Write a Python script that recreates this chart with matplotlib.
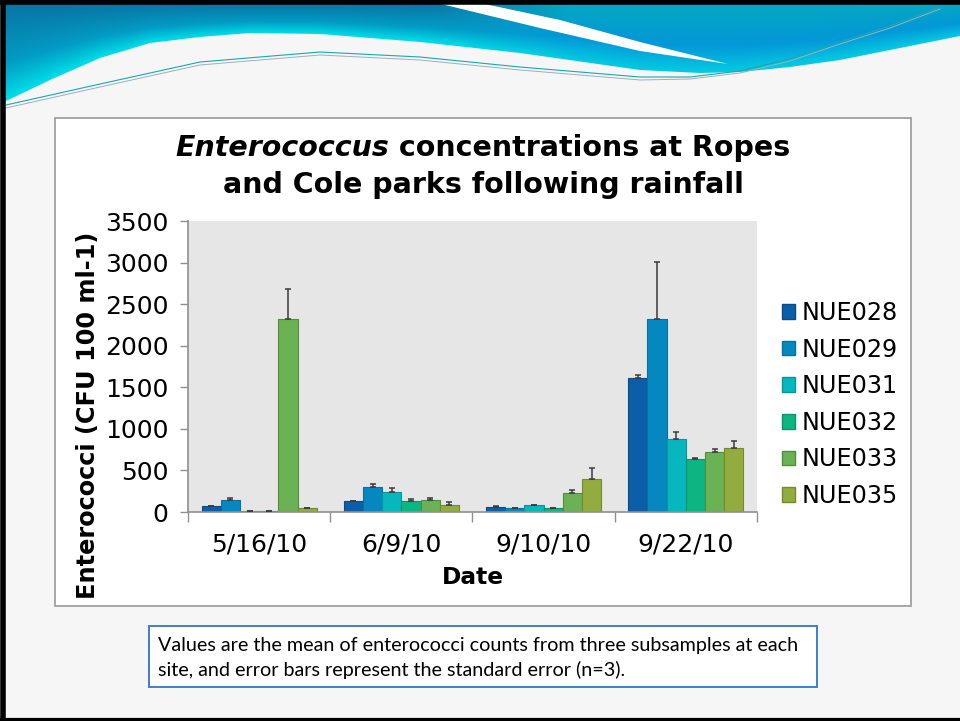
#!/usr/bin/env python3
"""Enterococcus counts at Ropes and Cole parks after rainfall, drawn as a slide."""

import numpy as np
import matplotlib

matplotlib.use("Agg")
import matplotlib.pyplot as plt
from matplotlib.patches import Patch, Polygon, Rectangle

W, H = 960, 721

dates = ["5/16/10", "6/9/10", "9/10/10", "9/22/10"]
sites = ["NUE028", "NUE029", "NUE031", "NUE032", "NUE033", "NUE035"]
colors = ["#0B5EA8", "#0588C0", "#08B6BE", "#0EB482", "#6AB253", "#93AC3F"]
edges = ["#0A4C88", "#06709E", "#06969C", "#0B936A", "#4F8E3C", "#75892F"]

# mean counts per site (rows) for each date (columns)
means = [
    [70, 132, 60, 1609],
    [144, 301, 48, 2319],
    [10, 245, 80, 875],
    [10, 128, 48, 634],
    [2319, 144, 229, 722],
    [45, 80, 397, 766],
]
# standard error (n=3), drawn upward only
sems = [
    [8, 4, 8, 43],
    [28, 40, 4, 693],
    [3, 44, 5, 92],
    [3, 24, 5, 12],
    [364, 20, 32, 32],
    [5, 36, 128, 84],
]

title_italic = "Enterococcus"
title_rest = " concentrations at Ropes"
title_line2 = "and Cole parks following rainfall"
ylabel = "Enterococci (CFU 100 ml-1)"
xlabel = "Date"
caption = [
    "Values are the mean of enterococci counts from three subsamples at each",
    "site, and error bars represent the standard error (n=3).",
]


def px(x, y):
    """Slide pixel position -> figure fraction."""
    return x / W, 1 - y / H


def hexrgb(c):
    c = c.lstrip("#")
    return np.array([int(c[i:i + 2], 16) for i in (0, 2, 4)]) / 255.0


fig = plt.figure(figsize=(W / 100, H / 100), dpi=100, facecolor="#F6F6F6")

# slide background layer in pixel coordinates
bg = fig.add_axes([0, 0, 1, 1])
bg.set_xlim(0, W)
bg.set_ylim(H, 0)
bg.axis("off")

# header band: gradient clipped to the wave outline
edge_x = np.array([4, 50, 100, 150, 200, 250, 320, 420, 520, 640, 700, 740, 790, 840, 890, 960])
edge_y = np.array([102, 80, 58, 43, 37, 33, 34, 42, 53, 70, 73, 72, 67, 60, 50, 36])
gx = np.arange(W)
bottom = np.interp(gx, edge_x, edge_y)
gy = np.arange(110)[:, None]
t = np.clip((gy - 3) / (bottom[None, :] - 3), 0, 1)
mix = np.clip((gx - 430) / 140.0, 0, 1)[None, :]
top_c = (1 - mix)[..., None] * hexrgb("#0874A4") + mix[..., None] * hexrgb("#06A8C0")
mid_c = (1 - mix)[..., None] * hexrgb("#039CC4") + mix[..., None] * hexrgb("#0398D8")
bot_c = (1 - mix)[..., None] * hexrgb("#00E0EA") + mix[..., None] * hexrgb("#05CCE2")
tt = t[..., None]
grad = np.where(tt < 0.6,
                (1 - tt / 0.6) * top_c + (tt / 0.6) * mid_c,
                (1 - (tt - 0.6) / 0.4) * mid_c + ((tt - 0.6) / 0.4) * bot_c)
img = bg.imshow(grad, extent=(0, W, 110, 0), aspect="auto", zorder=1)
outline = np.vstack([[[4, 3], [960, 3]], np.column_stack([edge_x, edge_y])[::-1]])
clip = Polygon(outline, closed=True, transform=bg.transData, facecolor="none", edgecolor="none")
bg.add_patch(clip)
img.set_clip_path(clip)

# white swoosh cutting through the band
sw_upper = [(480, 3), (560, 20), (640, 42), (728, 64)]
sw_lower = [(728, 64), (640, 51), (540, 28), (437, 3)]
bg.add_patch(Polygon(sw_upper + sw_lower, closed=True, facecolor="white", edgecolor="none", zorder=2))

# thin accent lines under the wave
lx = np.array([6, 100, 200, 320, 420, 520, 640, 690, 740, 790, 840, 890, 940])
bg.plot(lx, [105, 84, 62, 52, 57, 67, 77, 77, 71, 59, 42, 26, 7], color="#1AA8B0", lw=0.8, zorder=3)
bg.plot(lx, [108, 87, 65, 55, 60, 70, 80, 79, 73, 61, 44, 28, 9], color="#9AB0C0", lw=0.7, zorder=3)

# slide border
bg.plot([2.5, 2.5], [0, 719], color="black", lw=4, zorder=5, solid_capstyle="butt")
bg.plot([0, W], [2, 2], color="black", lw=4, zorder=5, solid_capstyle="butt")
bg.plot([0, W], [719.5, 719.5], color="black", lw=3, zorder=5, solid_capstyle="butt")

# chart frame and caption box
bg.add_patch(Rectangle((55, 118), 856, 488, facecolor="white", edgecolor="#A0A0A0", lw=1.3, zorder=4))
bg.add_patch(Rectangle((149, 626), 668, 61, facecolor="white", edgecolor="#3A7FD2", lw=1.4, zorder=4))

# bar chart
ax = fig.add_axes([188 / W, 1 - 512 / H, (757 - 188) / W, (512 - 221) / H], zorder=6)
ax.set_facecolor("#E6E6E6")
x = np.arange(len(dates))
bw = 0.135
for i, site in enumerate(sites):
    pos = x + (i - 2.5) * bw
    ax.bar(pos, means[i], width=bw, color=colors[i], edgecolor=edges[i], linewidth=0.8, zorder=2)
    ax.errorbar(pos, means[i], yerr=[np.zeros(len(dates)), sems[i]], fmt="none",
                ecolor="#3A3A3A", elinewidth=1.1, capsize=2.3, capthick=1.1, zorder=3)

ax.set_xlim(-0.5, len(dates) - 0.5)
ax.set_ylim(0, 3500)
ax.set_yticks(np.arange(0, 3501, 500))
ax.set_xticks(x)
ax.set_xticklabels(dates)
ax.set_xticks(np.arange(-0.5, len(dates)), minor=True)
ax.tick_params(axis="x", which="major", length=0, labelsize=18, pad=15)
ax.tick_params(axis="x", which="minor", length=7, color="#909090", width=1)
ax.tick_params(axis="y", length=6, color="#909090", width=1, labelsize=18, pad=8)
for side in ("top", "right"):
    ax.spines[side].set_visible(False)
for side in ("left", "bottom"):
    ax.spines[side].set_color("#909090")
    ax.spines[side].set_linewidth(1.2)

handles = [Patch(facecolor=c, edgecolor=e, label=s) for s, c, e in zip(sites, colors, edges)]
fig.legend(handles=handles, loc="center left", bbox_to_anchor=px(772, 404.5), frameon=False,
           fontsize=17.2, handlelength=0.56, handleheight=0.56, handletextpad=0.3,
           labelspacing=0.53, borderaxespad=0)

# axis titles
fig.text(*px(88, 415), ylabel, rotation=90, ha="center", va="center", fontsize=17.3,
         fontweight="bold", zorder=7)
fig.text(*px(473, 577), xlabel, ha="center", va="center", fontsize=16.8, fontweight="bold", zorder=7)

# two-line title, first word in italics
renderer = fig.canvas.get_renderer()
t1 = fig.text(0, 0, title_italic, fontsize=20.5, fontweight="bold", style="italic", zorder=7)
t2 = fig.text(0, 0, title_rest, fontsize=20.5, fontweight="bold", zorder=7)
w1 = t1.get_window_extent(renderer).width
w2 = t2.get_window_extent(renderer).width
x0 = 483 - (w1 + w2) / 2
t1.set_position(px(x0, 148))
t1.set_va("center")
t2.set_position(px(x0 + w1, 148))
t2.set_va("center")
fig.text(*px(483, 185), title_line2, ha="center", va="center", fontsize=20.5, fontweight="bold",
         zorder=7)

# caption
for k, line in enumerate(caption):
    fig.text(*px(158, 645 + 25 * k), line, ha="left", va="center", fontsize=14.2,
             family=["Lato", "DejaVu Sans"], zorder=7)

fig.savefig("out.png", dpi=100, facecolor=fig.get_facecolor())
